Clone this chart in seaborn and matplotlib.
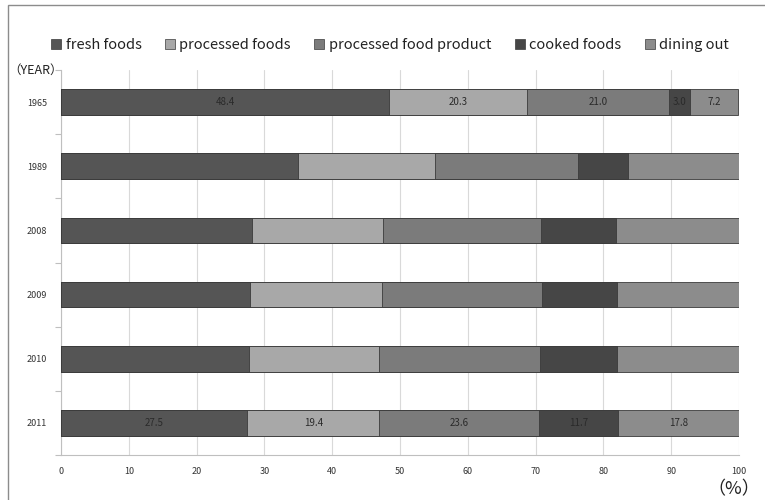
import numpy as np
import pandas as pd
import matplotlib
matplotlib.use("Agg")
import matplotlib.pyplot as plt
from matplotlib.patches import Rectangle
from matplotlib.ticker import FixedLocator
import seaborn as sns

# Share of food expenditure by category (%)
years = ["1965", "1989", "2008", "2009", "2010", "2011"]
categories = ["fresh foods", "processed foods", "processed food product",
              "cooked foods", "dining out"]
fresh_foods = [48.4, 35.0, 28.2, 27.9, 27.7, 27.5]
processed_foods = [20.3, 20.2, 19.3, 19.4, 19.2, 19.4]
processed_food_product = [21.0, 21.0, 23.3, 23.6, 23.7, 23.6]
cooked_foods = [3.0, 7.5, 11.0, 11.1, 11.4, 11.7]
dining_out = [7.2, 16.3, 18.2, 18.0, 18.0, 17.8]
labelled_years = ["1965", "2011"]

colors = ["#555555", "#a8a8a8", "#7b7b7b", "#464646", "#8c8c8c"]

sns.set_theme(style="white")
plt.rcParams["font.family"] = ["Noto Sans CJK JP", "DejaVu Sans"]

series = [fresh_foods, processed_foods, processed_food_product, cooked_foods, dining_out]
df = pd.DataFrame({c: s for c, s in zip(categories, series)}, index=years)
cum = df.cumsum(axis=1)

fig = plt.figure(figsize=(7.65, 5.0), dpi=100)
ax = fig.add_axes([61 / 765, 1 - 455 / 500, 678 / 765, 385 / 500])

# Stacked bars: draw cumulative totals from the outermost segment inward
for cat, col in reversed(list(zip(categories, colors))):
    sns.barplot(x=cum[cat].values, y=years, order=years, orient="h",
                color=col, saturation=1, width=0.4, ax=ax,
                edgecolor="#3a3a3a", linewidth=0.6, zorder=3)

# Value labels for the first and last year
for yr in labelled_years:
    row = years.index(yr)
    left = 0.0
    for cat in categories:
        v = df.loc[yr, cat]
        ax.text(left + v / 2, row, f"{v:.1f}", ha="center", va="center",
                fontsize=7, color="#2a2a2a", zorder=5)
        left += v

ax.set_xlim(0, 100)
ax.set_ylim(len(years) - 0.5, -0.5)
ax.set_xticks(np.arange(0, 101, 10))
ax.set_xticklabels([str(v) for v in range(0, 101, 10)], fontsize=6.5, color="#333333")
ax.set_yticks(range(len(years)))
ax.set_yticklabels(years, fontsize=6.5, color="#333333")
ax.yaxis.set_minor_locator(FixedLocator(np.arange(-0.5, len(years), 1)))
ax.set_xlabel("")
ax.set_ylabel("")

ax.grid(axis="x", color="#d9d9d9", linewidth=0.8, zorder=0)
ax.set_axisbelow(True)
for side in ["top", "right"]:
    ax.spines[side].set_visible(False)
for side in ["left", "bottom"]:
    ax.spines[side].set_color("#bfbfbf")
    ax.spines[side].set_linewidth(0.8)
ax.tick_params(axis="x", which="major", direction="out", length=4, color="#bfbfbf",
               width=0.8, pad=5)
ax.tick_params(axis="y", which="major", length=0, pad=10)
ax.tick_params(axis="y", which="minor", direction="out", length=4, color="#bfbfbf",
               width=0.8, left=True)

# Legend across the top
handles = [Rectangle((0, 0), 1, 1, facecolor=c, edgecolor="#3a3a3a", linewidth=0.5)
           for c in colors]
fig.legend(handles, categories, loc="center", bbox_to_anchor=(390 / 765, 1 - 45 / 500),
           ncol=5, frameon=False, fontsize=10.5, handlelength=0.7, handleheight=0.7,
           handletextpad=0.3, columnspacing=1.6, labelcolor="#222222")

fig.text(8 / 765, 1 - 70 / 500, "（YEAR）", fontsize=9, color="#222222",
         ha="left", va="center")
fig.text(760 / 765, 1 - 489 / 500, "（%）", fontsize=13, color="#222222",
         ha="right", va="center")

# Outer frame
fig.patches.append(Rectangle((8 / 765, -0.01), 1.0, 1 - 5 / 500 + 0.01,
                             transform=fig.transFigure, fill=False,
                             edgecolor="#8c8c8c", linewidth=1.0))

fig.savefig("out.png", dpi=100)
